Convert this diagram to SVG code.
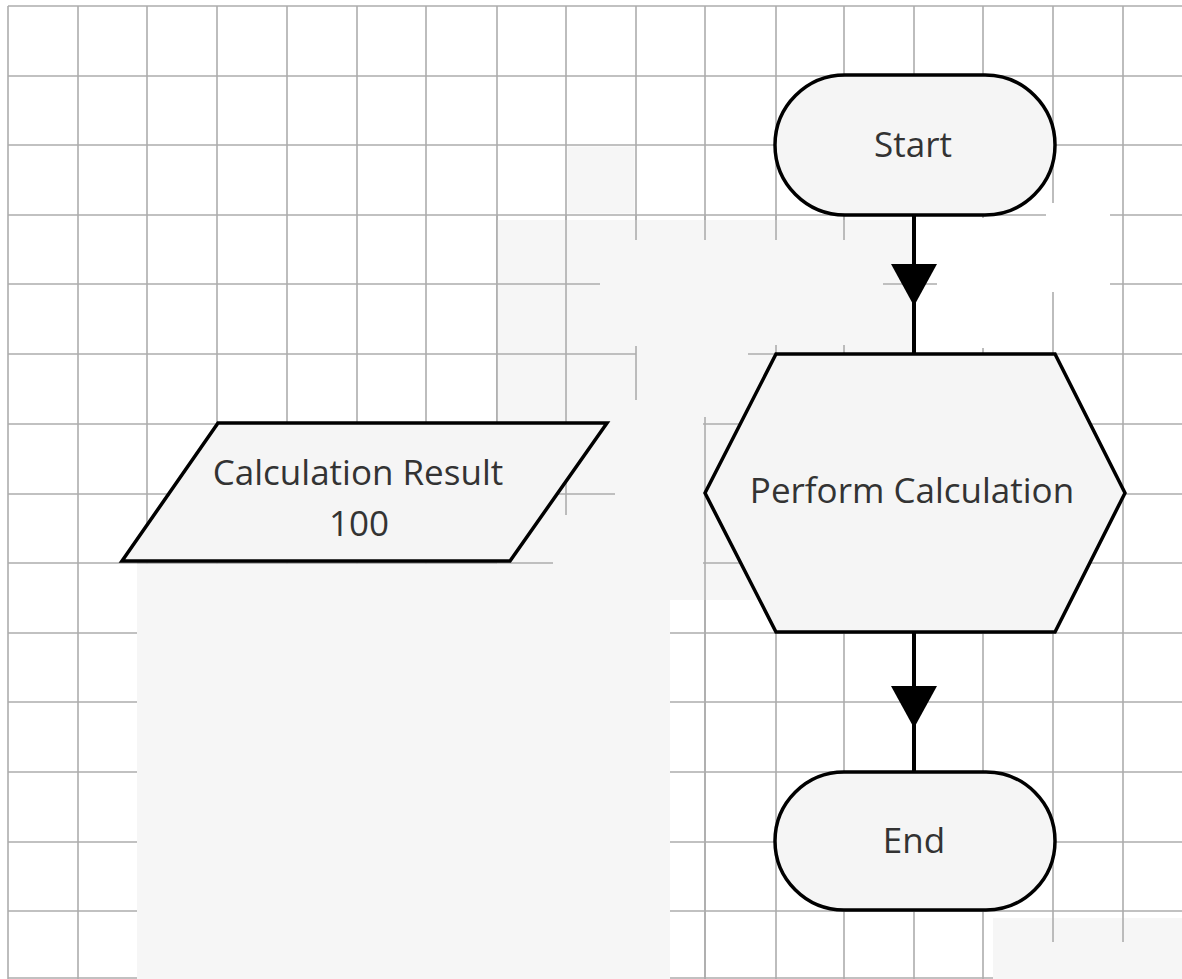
<svg xmlns="http://www.w3.org/2000/svg" width="1182" height="979" viewBox="0 0 1182 979">
<style>
.grid{stroke:#adadad;stroke-width:1.6;fill:none}
.patch{fill:#f6f6f6;stroke:none}
.blank{fill:#ffffff;stroke:none}
.node{fill:#f5f5f5;stroke:#000;stroke-width:3.5;stroke-linejoin:miter}
.label{font-family:"Open Sans","Noto Sans",sans-serif;font-size:35px;fill:#333;text-anchor:middle}
.conn{stroke:#000;stroke-width:4;fill:none;marker-mid:url(#arrow)}
</style>
<defs>
<marker id="arrow" markerUnits="userSpaceOnUse" markerWidth="42" markerHeight="46" viewBox="0 0 42 46" refX="42" refY="23" orient="auto">
<path d="M0,0 L42,23 L0,46 z" fill="#000"/>
</marker>
</defs>
<rect width="1182" height="979" fill="#ffffff"/>
<g id="background">
<path class="grid" d="M8,6V979 M78,6V979 M147,6V979 M217,6V979 M287,6V979 M357,6V979 M426,6V979 M497,6V979 M566,6V979 M636,6V979 M705,6V979 M776,6V979 M844,6V979 M914,6V979 M983,6V979 M1053,6V979 M1123,6V979 M8,6H1182 M8,76H1182 M8,145H1182 M8,215H1182 M8,284H1182 M8,354H1182 M8,424H1182 M8,494H1182 M8,563H1182 M8,633H1182 M8,702H1182 M8,772H1182 M8,842H1182 M8,911H1182 M8,978H1182"/>
<rect class="patch" x="567.5" y="146.5" width="67" height="67"/>
<polygon class="patch" points="497,220 912,220 912,352 776,352 776,600 670,600 670,979 137,979 137,564 497,564"/>
<rect class="blank" x="922" y="218" width="124" height="130"/>
<rect class="blank" x="1046" y="203" width="64" height="89"/>
<rect class="patch" x="993" y="918" width="189" height="61"/>
<path class="grid" d="M497,215V423 M566,215V423 M566,481V515 M636,215V240 M636,346V400 M705,215V240 M705,417V979 M776,215V240 M776,345V354 M844,215V240 M844,345V354 M497,284H600 M883,284H937 M497,354H636 M748,354H776 M703,424H745 M557,494H615 M137,563H553 M703,563H745 M1053,918V942 M1123,918V942"/>
</g>
<g id="connectors">
<path class="conn" d="M914,215 L914,306 L914,354"/>
<path class="conn" d="M914,632 L914,728 L914,772"/>
</g>
<g id="start">
<rect class="node" x="775" y="75" width="280" height="140" rx="70" ry="70"/>
<text class="label" x="913" y="157">Start</text>
</g>
<g id="perform-calculation">
<polygon class="node" points="776,354 1055,354 1125,493 1055,632 776,632 705,493"/>
<text class="label" x="912" y="503">Perform Calculation</text>
</g>
<g id="end">
<rect class="node" x="775" y="772" width="280" height="138" rx="69" ry="69"/>
<text class="label" x="914" y="853">End</text>
</g>
<g id="calculation-result">
<polygon class="node" points="218,423 607,423 510,561 122,561"/>
<text class="label" x="358" y="485">Calculation Result</text>
<text class="label" x="359" y="536">100</text>
</g>
</svg>
